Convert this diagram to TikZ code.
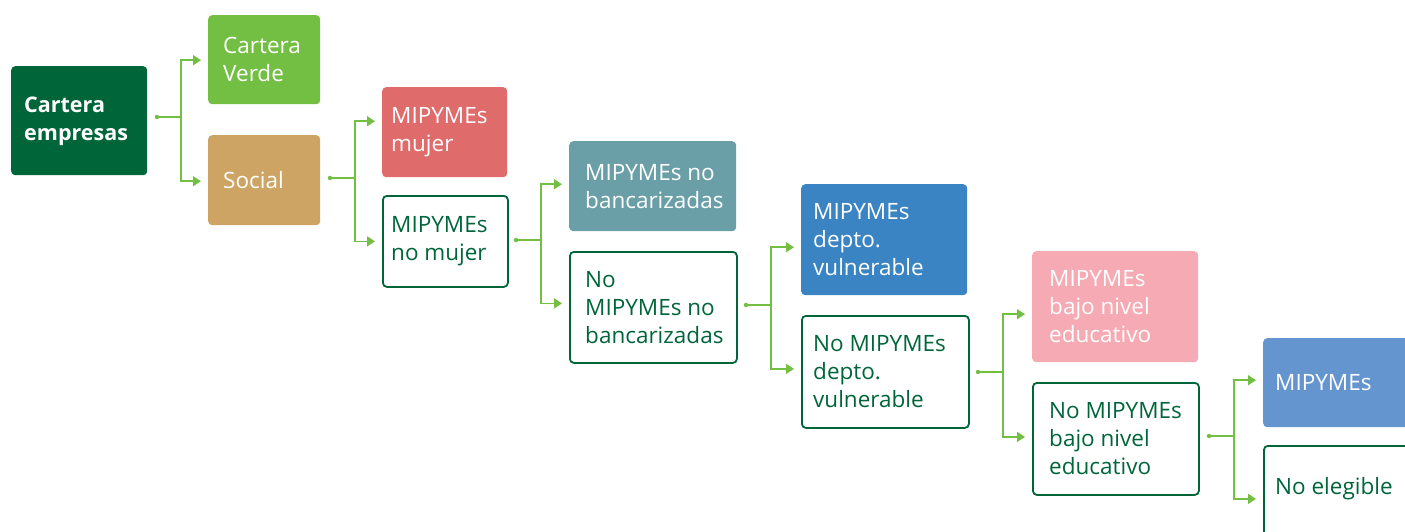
\documentclass[tikz,border=0pt]{standalone}
\usepackage{fontspec}
\setmainfont{Open Sans}
\usetikzlibrary{arrows.meta,calc}
\definecolor{dkgreen}{HTML}{00663A}
\definecolor{lgreen}{HTML}{72BF44}
\definecolor{argreen}{HTML}{72BF44}
\definecolor{tan}{HTML}{CDA463}
\definecolor{rosered}{HTML}{E06B6B}
\definecolor{teal}{HTML}{6B9FA8}
\definecolor{blueA}{HTML}{3A84C4}
\definecolor{pinkA}{HTML}{F6AAB3}
\definecolor{blueB}{HTML}{6595CF}
\tikzset{
  box/.style={rectangle, rounded corners=4pt, anchor=north west, inner sep=0pt},
  filledbox/.style={box, fill=#1, draw=none},
  linebox/.style={box, fill=white, draw=dkgreen, line width=1.8pt},
  lbl/.style={anchor=west, align=left, inner sep=0pt, font=\fontsize{22.5}{28}\selectfont, text=white},
  lbldk/.style={lbl, text=dkgreen},
  conn/.style={draw=argreen, line width=1.6pt, shorten >=7pt, -{Triangle[length=8pt,width=10pt]}},
  dotc/.style={circle, fill=argreen, inner sep=0pt, minimum size=4.5pt}
}
\begin{document}
\begin{tikzpicture}[x=1pt,y=-1pt]
\useasboundingbox (0,0) rectangle (1405,531);
\clip (0,0) rectangle (1405,531);
% boxes
\node[filledbox=dkgreen, minimum width=136pt, minimum height=109pt] (b1) at (11,66) {};
\node[filledbox=lgreen, minimum width=112pt, minimum height=89pt] (b2) at (208,15) {};
\node[filledbox=tan, minimum width=112pt, minimum height=90pt] (b3) at (208,135) {};
\node[filledbox=rosered, minimum width=125pt, minimum height=90pt] (b4) at (382,87) {};
\node[linebox, minimum width=125pt, minimum height=91pt] (b5) at (382,195) {};
\node[filledbox=teal, minimum width=167pt, minimum height=90pt] (b6) at (569,141) {};
\node[linebox, minimum width=167pt, minimum height=111pt] (b7) at (569,251) {};
\node[filledbox=blueA, minimum width=166pt, minimum height=111pt] (b8) at (801,184) {};
\node[linebox, minimum width=167pt, minimum height=112pt] (b9) at (801,315) {};
\node[filledbox=pinkA, minimum width=166pt, minimum height=111pt] (b10) at (1032,251) {};
\node[linebox, minimum width=166pt, minimum height=112pt] (b11) at (1032,382) {};
\node[filledbox=blueB, minimum width=167pt, minimum height=89pt] (b12) at (1263,338) {};
\node[linebox, minimum width=167pt, minimum height=110pt] (b13) at (1263,445) {};
% labels
\node[lbl, font=\fontsize{21.5}{28}\selectfont\bfseries] (t1) at ($(b1.west)+(13,1)$) {Cartera\\empresas};
\node[lbl] (t2) at ($(b2.west)+(15,0)$) {Cartera\\Verde};
\node[lbl] (t3) at ($(b3.west)+(15,0)$) {Social};
\node[lbl] (t4) at ($(b4.west)+(9,0)$) {MIPYMEs\\mujer};
\node[lbldk] (t5) at ($(b5.west)+(9,0)$) {MIPYMEs\\no mujer};
\node[lbl] (t6) at ($(b6.west)+(16,0)$) {MIPYMEs no\\bancarizadas};
\node[lbldk] (t7) at ($(b7.west)+(16,0)$) {No\\MIPYMEs no\\bancarizadas};
\node[lbl] (t8) at ($(b8.west)+(12,0)$) {MIPYMEs\\depto.\\vulnerable};
\node[lbldk] (t9) at ($(b9.west)+(12,0)$) {No MIPYMEs\\depto.\\vulnerable};
\node[lbl] (t10) at ($(b10.west)+(17,0)$) {MIPYMEs\\bajo nivel\\educativo};
\node[lbldk] (t11) at ($(b11.west)+(17,0)$) {No MIPYMEs\\bajo nivel\\educativo};
\node[lbl] (t12) at ($(b12.west)+(12,0)$) {MIPYMEs};
\node[lbldk] (t13) at (1275,489) {No elegible};
% dots
\node[dotc] (d1) at (157,117) {};
\node[dotc] (d2) at (330,178) {};
\node[dotc] (d3) at (516,240) {};
\node[dotc] (d4) at (746,305) {};
\node[dotc] (d5) at (978,372) {};
\node[dotc] (d6) at (1209,436) {};
% connectors
\draw[conn] (d1.center) -- ++(24,0) |- ([yshift=-0.5pt]b2.west);
\draw[conn] (d1.center) -- ++(24,0) |- ([yshift=-1pt]b3.west);
\draw[conn] (d2.center) -- ++(25,0) |- ([yshift=11pt]b4.west);
\draw[conn] (d2.center) -- ++(25,0) |- (b5.west);
\draw[conn] (d3.center) -- ++(25,0) |- ([yshift=2pt]b6.west);
\draw[conn] (d3.center) -- ++(25,0) |- ([yshift=4pt]b7.west);
\draw[conn] (d4.center) -- ++(25,0) |- ([yshift=-7.5pt]b8.west);
\draw[conn] (d4.center) -- ++(25,0) |- ([yshift=3pt]b9.west);
\draw[conn] (d5.center) -- ++(25,0) |- ([yshift=-7.5pt]b10.west);
\draw[conn] (d5.center) -- ++(25,0) |- ([yshift=2pt]b11.west);
\draw[conn] (d6.center) -- ++(25,0) |- ([yshift=2.5pt]b12.west);
\draw[conn] (d6.center) -- ++(25,0) |- ([yshift=2pt]b13.west);
\end{tikzpicture}
\end{document}
